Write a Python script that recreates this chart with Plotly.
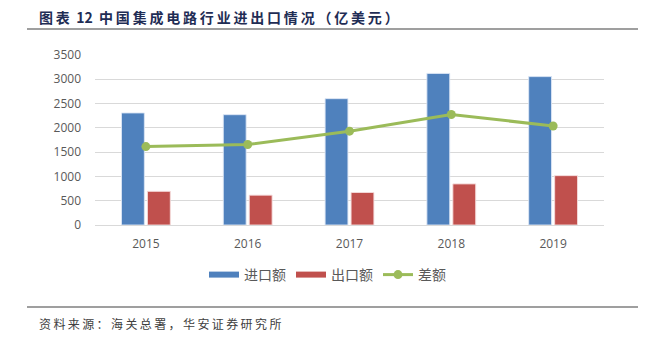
import plotly.graph_objects as go

years = ["2015", "2016", "2017", "2018", "2019"]
imports = [2307, 2271, 2601, 3121, 3055]
exports = [693, 614, 669, 846, 1016]
diff = [1614, 1657, 1932, 2275, 2039]
yticks = [0, 500, 1000, 1500, 2000, 2500, 3000, 3500]

BLUE = "#4f81bd"
RED = "#c0504d"
GREEN = "#9bbb59"
FONT = "Noto Sans CJK SC"
TS = "\u2009"


def spaced(s):
    return TS.join(list(s))


fig = go.Figure()
fig.add_trace(go.Bar(x=years, y=imports, name="进口额", marker=dict(color=BLUE, line=dict(color="rgba(220,230,245,0.9)", width=1)), showlegend=False, legendgroup="a"))
fig.add_trace(go.Bar(x=years, y=exports, name="出口额", marker=dict(color=RED, line=dict(color="rgba(245,220,220,0.9)", width=1)), showlegend=False, legendgroup="b"))
# legend proxies (wide swatches)
fig.add_trace(go.Scatter(x=[None], y=[None], mode="lines", line=dict(color=BLUE, width=6), name="进口额", legendgroup="a"))
fig.add_trace(go.Scatter(x=[None], y=[None], mode="lines", line=dict(color=RED, width=6), name="出口额", legendgroup="b"))
fig.add_trace(go.Scatter(x=years, y=diff, name="差额", mode="lines+markers",
                         line=dict(color=GREEN, width=3), marker=dict(color=GREEN, size=9)))

fig.update_layout(
    width=648, height=339,
    margin=dict(l=95, r=44, t=55, b=114),
    paper_bgcolor="white", plot_bgcolor="white",
    barmode="group", bargap=0.49, bargroupgap=0.12,
    font=dict(family=FONT, color="#595959", size=12),
    xaxis=dict(type="category", showgrid=False, showline=True, linecolor="#d9d9d9", linewidth=1,
               ticks="", tickfont=dict(family="Open Sans", size=12, color="#595959"),
               ticklabelstandoff=8),
    yaxis=dict(range=[0, 3500], tickvals=yticks, showgrid=True, gridcolor="#d9d9d9", gridwidth=1,
               zeroline=False, ticks="", tickfont=dict(family="Open Sans", size=12, color="#595959"),
               ticklabelstandoff=13),
    legend=dict(orientation="h", x=(204 - 95) / 509, xanchor="left", y=-50 / 170, yanchor="middle",
                font=dict(family=FONT, size=14, color="#595959"), itemwidth=30, tracegroupgap=0),
    showlegend=True,
)

fig.add_annotation(text="<b>" + spaced("图表") + "  12  " + spaced("中国集成电路行业进出口情况（亿美元）") + "</b>",
                   xref="paper", yref="paper",
                   x=-58 / 509, y=1 + 38 / 170, xanchor="left", yanchor="middle", showarrow=False,
                   font=dict(family=FONT, size=14, color="#1f2d55"))
fig.add_annotation(text=spaced("资料来源：海关总署，华安证券研究所"), xref="paper", yref="paper",
                   x=-58 / 509, y=-98 / 170, xanchor="left", yanchor="middle", showarrow=False,
                   font=dict(family=FONT, size=12, color="#404040"))
fig.add_shape(type="line", xref="paper", yref="paper", x0=-68 / 509, x1=(638 - 95) / 509,
              y0=1 + 26 / 170, y1=1 + 26 / 170, line=dict(color="#404040", width=1.2))
fig.add_shape(type="line", xref="paper", yref="paper", x0=-68 / 509, x1=(638 - 95) / 509,
              y0=-82 / 170, y1=-82 / 170, line=dict(color="#404040", width=1.2))

fig.write_html("out.html")
